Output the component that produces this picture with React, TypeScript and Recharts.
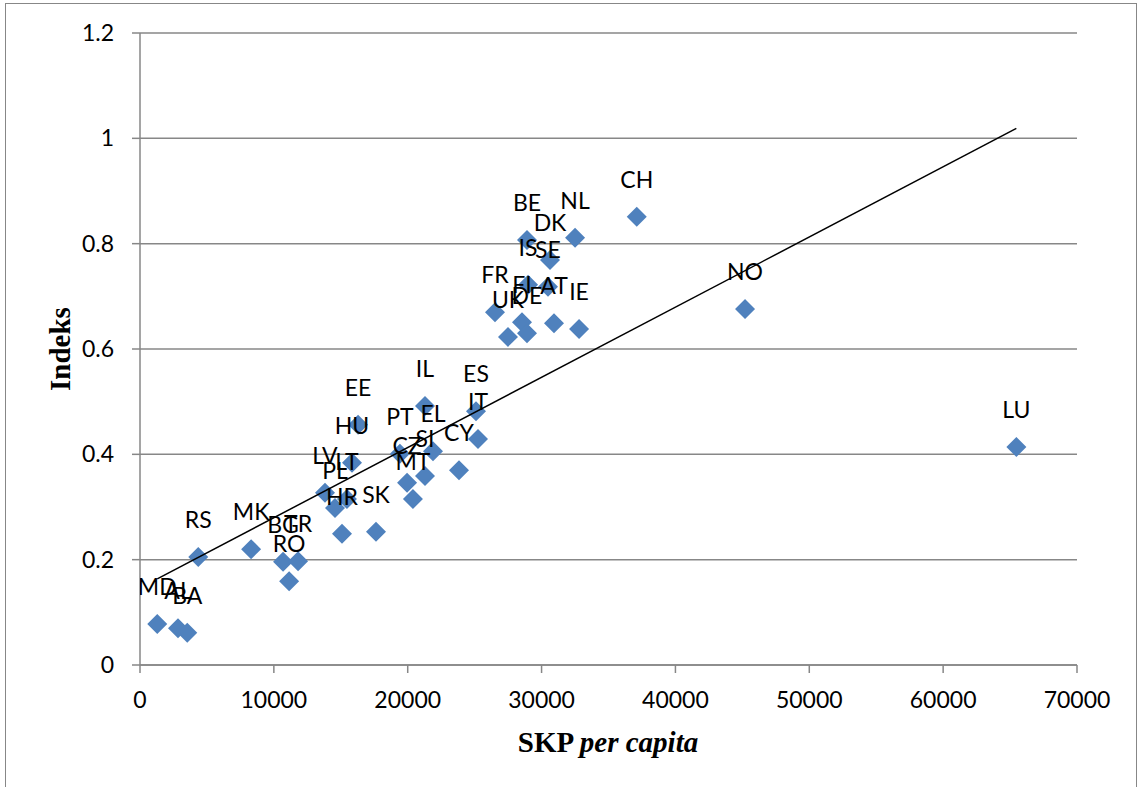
import React from 'react';
import { ScatterChart, Scatter, XAxis, YAxis, CartesianGrid, Label } from 'recharts';

const countries = ['MD','AL','BA','RS','MK','BG','TR','RO','LV','PL','LT','HU','EE','HR','SK','PT','CZ','MT','SI','EL','IL','CY','ES','IT','BE','NL','DK','IS','SE','FR','FI','DE','AT','UK','IE','CH','NO','LU'];
const gdpPerCapita = [1290,2840,3530,4350,8300,10690,11810,11140,13820,14570,15460,15840,16290,15090,17630,19420,19950,20390,21290,21890,21290,23830,25100,25250,28910,32500,30630,28990,30480,26520,28540,28910,30930,27490,32800,37110,45200,65470];
const indexValues = [0.078,0.070,0.061,0.205,0.220,0.196,0.197,0.159,0.327,0.298,0.315,0.384,0.456,0.249,0.253,0.401,0.346,0.315,0.359,0.406,0.492,0.370,0.482,0.429,0.807,0.811,0.769,0.722,0.718,0.670,0.651,0.630,0.649,0.623,0.638,0.851,0.676,0.414];
const xTicks = [0,10000,20000,30000,40000,50000,60000,70000];
const yTicks = [0,0.2,0.4,0.6,0.8,1,1.2];

const data = countries.map((c, i) => ({ name: c, x: gdpPerCapita[i], y: indexValues[i] }));

// ordinary least squares trend line (as Excel's linear trendline)
const n = data.length;
const mx = gdpPerCapita.reduce((a, b) => a + b, 0) / n;
const my = indexValues.reduce((a, b) => a + b, 0) / n;
let sxy = 0, sxx = 0;
for (let i = 0; i < n; i++) {
  sxy += (gdpPerCapita[i] - mx) * (indexValues[i] - my);
  sxx += (gdpPerCapita[i] - mx) ** 2;
}
const slope = sxy / sxx;
const intercept = my - slope * mx;
const xMin = Math.min(...gdpPerCapita);
const xMax = Math.max(...gdpPerCapita);
const trend = [
  { x: xMin, y: intercept + slope * xMin },
  { x: xMax, y: intercept + slope * xMax },
];

const FONT = 'Lato, "Open Sans", sans-serif';
const GRAY = '#878787';

const Diamond = (props: any) => {
  const { cx, cy } = props;
  if (cx == null || cy == null) return <g />;
  const r = 10;
  return <polygon points={`${cx},${cy - r} ${cx + r},${cy} ${cx},${cy + r} ${cx - r},${cy}`} fill="#4F81BD" />;
};

const PointLabel = (props: any) => {
  const { cx, cy, payload } = props;
  if (cx == null || cy == null) return <g />;
  return (
    <text x={cx} y={cy - 29} textAnchor="middle" fontFamily={FONT} fontSize={23} fill="#000">
      {payload.name}
    </text>
  );
};

const Empty = () => <g />;

export default function App() {
  return (
    <div style={{ position: 'fixed', left: 0, top: 0, width: 1141, height: 787, overflow: 'hidden', background: '#fff' }}>
      <div style={{ position: 'absolute', left: 5, top: 3, width: 1132, height: 900, border: `1.5px solid ${GRAY}`, boxSizing: 'border-box' }} />
      <div style={{ position: 'absolute', left: 0, top: 0 }}>
        <ScatterChart width={1141} height={787} margin={{ top: 33, right: 64, bottom: 62, left: 40 }}>
          <CartesianGrid horizontal vertical={false} stroke={GRAY} strokeWidth={1.5} />
          <XAxis
            type="number"
            dataKey="x"
            domain={[0, 70000]}
            ticks={xTicks}
            height={60}
            stroke={GRAY}
            strokeWidth={1.5}
            tickSize={8}
            tickMargin={19}
            tick={{ fill: '#000', fontFamily: FONT, fontSize: 23 }}
            interval={0}
            allowDataOverflow
          >
            <Label
              content={() => (
                <text x={608} y={752} textAnchor="middle" fontFamily='"Liberation Serif", "Times New Roman", serif' fontSize={29} fontWeight="bold" fill="#000">
                  <tspan>SKP </tspan>
                  <tspan fontStyle="italic">per capita</tspan>
                </text>
              )}
            />
          </XAxis>
          <YAxis
            type="number"
            dataKey="y"
            domain={[0, 1.2]}
            ticks={yTicks}
            width={100}
            stroke={GRAY}
            strokeWidth={1.5}
            tickSize={8}
            tickMargin={18}
            tick={{ fill: '#000', fontFamily: FONT, fontSize: 23 }}
            tickFormatter={(v: number) => String(v)}
            interval={0}
            allowDataOverflow
          >
            <Label
              content={() => (
                <text x={70} y={349} transform="rotate(-90 70 349)" textAnchor="middle" fontFamily='"Liberation Serif", "Times New Roman", serif' fontSize={29} fontWeight="bold" fill="#000">
                  Indeks
                </text>
              )}
            />
          </YAxis>
          <Scatter data={data} shape={Diamond} isAnimationActive={false} />
          <Scatter data={trend} line={{ stroke: '#000', strokeWidth: 1.5 }} shape={Empty} isAnimationActive={false} />
          <Scatter data={data} shape={PointLabel} isAnimationActive={false} />
        </ScatterChart>
      </div>
    </div>
  );
}
